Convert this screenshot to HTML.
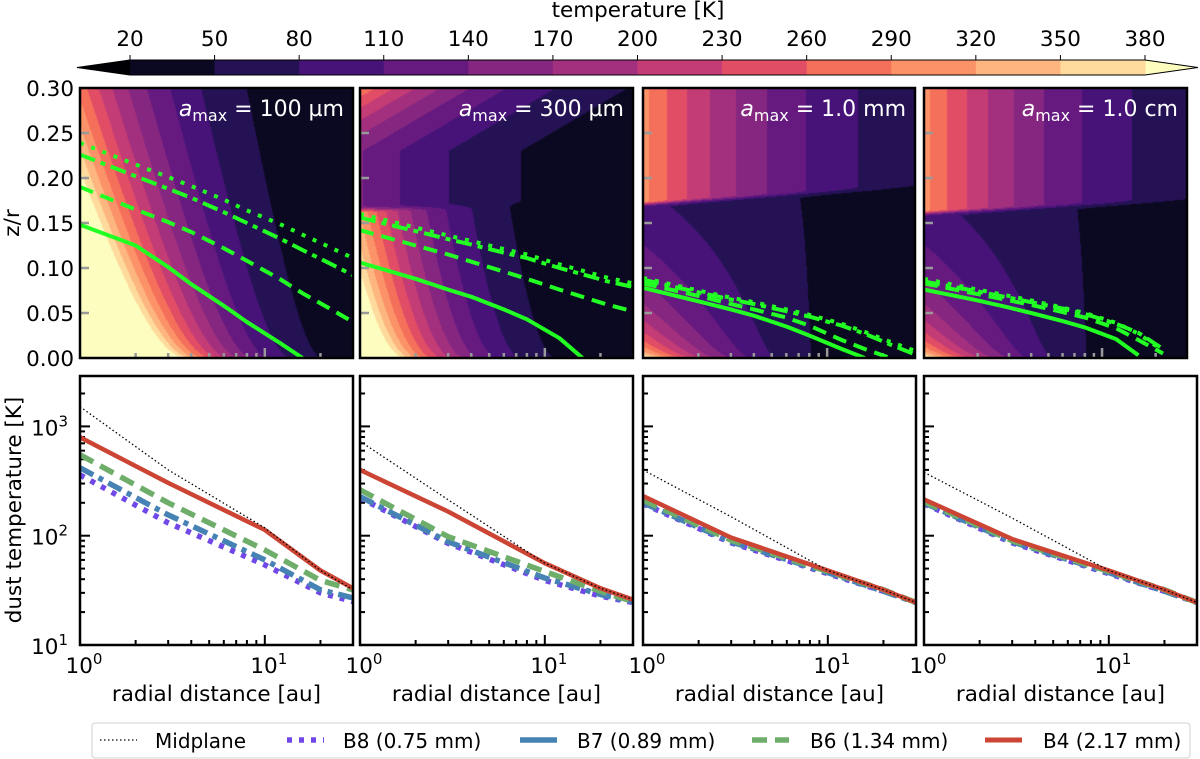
<!DOCTYPE html>
<html><head><meta charset="utf-8">
<style>
html,body{margin:0;padding:0;background:#fff;}
#wrap{position:relative;width:1200px;height:759px;overflow:hidden;}
canvas,svg{position:absolute;left:0;top:0;}
text{font-family:"DejaVu Sans","Liberation Sans",sans-serif;fill:#000;}
</style></head>
<body>
<div id="wrap">
<canvas id="cv" width="1200" height="759"></canvas>
<svg id="sv" width="1200" height="759" xmlns="http://www.w3.org/2000/svg"></svg>
</div>
<script>
// ---------- data ----------
const levels = [20,50,80,110,140,170,200,230,260,290,320,350,380];
const binColors = ['#0b0922','#251255','#471378','#661a80','#852781','#a3307e','#c43c75','#e24d66','#f5705b','#fc9368','#fdb680','#fedb9d'];
const underColor = '#000004', overColor = '#fcfdbf';
const panelTitles = ['100 µm','300 µm','1.0 mm','1.0 cm'];
// model parameters of the temperature field (per panel)
const lowA = [7.52,6.55,6.12,6.12];
const lowB = [4.06,3.67,3.56,3.56];
const lowC = [3.45,1.95,4.0,4.0];
const lowD = [2.27,0.77,6.3,6.3];
const upA = [0,4.96,5.71,5.71];
const upB = [0,1.78,1.68,1.68];
const upE = [0,10,0,0];
const upZ2 = [1,0.23,1,1];
const stepZ0 = [9,0.165,0.17,0.16];
const stepZ1 = [0,0.01,0.02,0.015];
// tau=1 surfaces (z/r) at radii
const rTop = [1,2,3,4,6,8,12,16,22,30];
const zB8 = [[0.239,0.215,0.201,0.191,0.176,0.164,0.149,0.137,0.124,0.111],[0.160,0.145,0.136,0.130,0.121,0.115,0.104,0.097,0.089,0.083],[0.089,0.075,0.067,0.062,0.054,0.048,0.038,0.029,0.018,0.008],[0.088,0.076,0.069,0.064,0.056,0.050,0.039,0.027,0.008,null]];
const zB7 = [[0.226,0.202,0.188,0.178,0.162,0.150,0.133,0.120,0.106,0.092],[0.156,0.141,0.132,0.126,0.117,0.111,0.100,0.093,0.085,0.079],[0.087,0.073,0.065,0.060,0.052,0.046,0.036,0.027,0.015,0.004],[0.085,0.074,0.067,0.062,0.055,0.049,0.038,0.028,0.010,null]];
const zB6 = [[0.190,0.165,0.151,0.140,0.122,0.108,0.088,0.072,0.056,0.040],[0.142,0.125,0.115,0.107,0.096,0.088,0.076,0.068,0.059,0.052],[0.083,0.069,0.060,0.054,0.045,0.036,0.020,0.010,0,null],[0.083,0.071,0.064,0.059,0.051,0.045,0.033,0.020,0.005,null]];
const zB4 = [[0.148,0.125,0.101,0.082,0.058,0.040,0.017,0,null,null],[0.106,0.088,0.076,0.068,0.054,0.043,0.022,0,null,null],[0.078,0.063,0.054,0.047,0.035,0.025,0.010,0,null,null],[0.076,0.064,0.056,0.050,0.041,0.034,0.021,0.003,null,null]];
// dust temperature profiles
const rBot = [1,3,10,20,30];
const tMid = [[1515,400,118,48,32],[730,213,56,33,26],[400,149,48,32,24.5],[380,145,48,32,24.5]];
const tB4 = [[795,304,113,48,33],[400,166,56,33,26],[231,96,48,32,24.5],[215,93,48,32,24.5]];
const tB6 = [[550,200,74,39,32],[263,98,47,31,25],[212,91,47,32,24.5],[205,90,47,32,24.5]];
const tB7 = [[418,155,60,32,27],[228,88,41,29,25],[200,88,46,31,24.5],[200,88,46,31,24.5]];
const tB8 = [[360,131,54,30,25],[222,85,39,28,24.5],[196,86,45,31,24.5],[196,86,45,31,24.5]];
const zTicks = ['0.00','0.05','0.10','0.15','0.20','0.25','0.30'];
const tTicks = [1,2,3];

// ---------- layout ----------
const PL = [80,360,643,924];
const TW = [273,273,272,263];
const BW = 273;
const topY0 = 88, topY1 = 358, botY0 = 376, botY1 = 645;
const RMAX = 30;
const FS = 21.5;
const NS = 'http://www.w3.org/2000/svg';
const sv = document.getElementById('sv');
function el(tag, attrs, parent){ const e=document.createElementNS(NS,tag); for(const k in attrs) e.setAttribute(k,attrs[k]); (parent||sv).appendChild(e); return e; }
function xR(p, r, w){ return PL[p] + Math.log10(r)/Math.log10(RMAX)*w; }
function yZ(z){ return topY1 - z/0.3*(topY1-topY0); }
function yT(t){ return botY1 - (Math.log10(t)-1)*109.3; }
function cbX(t){ return 130 + (t-20)/360*(1145-130); }

// ---------- field ----------
const cv = document.getElementById('cv'); const ctx = cv.getContext('2d');
function hex(c){ return [parseInt(c.slice(1,3),16),parseInt(c.slice(3,5),16),parseInt(c.slice(5,7),16)]; }
const binRGB = binColors.map(hex), oRGB = hex(overColor);
for(let p=0;p<4;p++){
  const W=TW[p], H=topY1-topY0;
  const img = ctx.createImageData(W,H);
  for(let py=0;py<H;py++){ for(let px=0;px<W;px++){
    const u=(px+0.5)/W, z=0.3*(1-(py+0.5)/H);
    const lnLow = lowA[p]-lowB[p]*u-(lowC[p]-lowD[p]*u)*Math.sqrt(z);
    let lnT = lnLow;
    const zs = stepZ0[p]+stepZ1[p]*u;
    if(stepZ0[p]<1){
      const lnUp = upA[p]-upB[p]*u+upE[p]*Math.max(0,z-upZ2[p]);
      let w=(z-zs)/0.008+0.5; w=Math.max(0,Math.min(1,w)); w=w*w*(3-2*w);
      lnT = lnLow*(1-w)+lnUp*w;
    }
    const T=Math.exp(lnT);
    let c;
    if(T<50) c=binRGB[0]; else if(T>=levels[levels.length-1]) c=oRGB; else c=binRGB[Math.floor((T-20)/30)];
    const i=(py*W+px)*4; img.data[i]=c[0]; img.data[i+1]=c[1]; img.data[i+2]=c[2]; img.data[i+3]=255;
  }}
  ctx.putImageData(img, PL[p], topY0);
}

// ---------- colorbar ----------
const cb = el('g',{});  
el('polygon',{points:`77,67.5 ${cbX(20)},60 ${cbX(20)},75`,fill:underColor},cb);
el('polygon',{points:`${cbX(380)},60 1198,67.5 ${cbX(380)},75`,fill:overColor},cb);
for(let i=0;i<binColors.length;i++){
  const r=el('rect',{x:cbX(levels[i]),y:60,width:cbX(levels[i+1])-cbX(levels[i])+0.5,height:15,fill:binColors[i]},cb);
   
}
el('polygon',{points:`77,67.5 ${cbX(20)},60 ${cbX(380)},60 1198,67.5 ${cbX(380)},75 ${cbX(20)},75`,fill:'none',stroke:'#000','stroke-width':1},cb);
levels.forEach(t=>{
  el('line',{x1:cbX(t),x2:cbX(t),y1:55,y2:60,stroke:'#000','stroke-width':1},cb);
  const tx=el('text',{x:cbX(t),y:46,'font-size':FS,'text-anchor':'middle'},cb); tx.textContent=t;
   
});
const cbt=el('text',{x:638,y:17,'font-size':FS,'text-anchor':'middle'},cb); cbt.textContent='temperature [K]';
 

// ---------- defs ----------
const defs=el('defs',{});
for(let p=0;p<4;p++){
  const c=el('clipPath',{id:'ct'+p},defs); el('rect',{x:PL[p],y:topY0,width:TW[p],height:topY1-topY0},c);
  const c2=el('clipPath',{id:'cb'+p},defs); el('rect',{x:PL[p],y:botY0,width:BW,height:botY1-botY0},c2);
}
const GREEN='#22ff22';
const bandStyles = [
  {name:'b8',zs:zB8,ts:tB8,color:'#7048e8',dash:'5,7',w:5.5},
  {name:'b7',zs:zB7,ts:tB7,color:'#4682b4',dash:'15,6,5,6',w:5.5},
  {name:'b6',zs:zB6,ts:tB6,color:'#6fae6a',dash:'15,8',w:5.5},
  {name:'b4',zs:zB4,ts:tB4,color:'#cc4433',dash:'',w:4.5}
];
const greenDash = {b8:'4,8',b7:'16,6,5,6',b6:'14,8',b4:''};
const minors=[2,3,4,5,6,7,8,9,20,30];

// ---------- top panels ----------
for(let p=0;p<4;p++){
  const g=el('g',{});  
  const W=TW[p];
  [0.05,0.10,0.15,0.20,0.25].forEach(z=>{ el('line',{x1:PL[p],x2:PL[p]+9,y1:yZ(z),y2:yZ(z),stroke:'#999','stroke-width':2.5},g); });
  minors.forEach(r=>{ if(r<RMAX) el('line',{x1:xR(p,r,W),x2:xR(p,r,W),y1:topY1,y2:topY1-5,stroke:'#999','stroke-width':2.5},g); });
  el('line',{x1:xR(p,10,W),x2:xR(p,10,W),y1:topY1,y2:topY1-10,stroke:'#999','stroke-width':2.5},g);
  const gl=el('g',{'clip-path':`url(#ct${p})`},g);
  bandStyles.forEach(b=>{
    const zs=b.zs[p]; let d='';
    for(let i=0;i<rTop.length;i++){ if(zs[i]===null) continue; d+=(d?'L':'M')+xR(p,rTop[i],W).toFixed(1)+','+yZ(zs[i]).toFixed(1); }
    const path=el('path',{d:d,fill:'none',stroke:GREEN,'stroke-width':4,'stroke-dasharray':greenDash[b.name]||'none','stroke-linejoin':'round'},gl);
     
  });
  el('rect',{x:PL[p],y:topY0,width:W,height:topY1-topY0,fill:'none',stroke:'#000','stroke-width':2.5},g);
  const t=el('text',{x:PL[p]+W-9,y:116,'font-size':22,'text-anchor':'end',style:'fill:#fff'},g);
   
  const a=el('tspan',{'font-style':'italic'},t); a.textContent='a';
  const s=el('tspan',{'font-size':16,dy:5},t); s.textContent='max';
  const v=el('tspan',{dy:-5},t); v.textContent=' = '+panelTitles[p];
}
zTicks.forEach(s=>{
  const t=el('text',{x:74,y:yZ(parseFloat(s))+8,'font-size':FS,'text-anchor':'end'}); t.textContent=s;
   
});
const zl=el('text',{x:0,y:0,'font-size':FS,'text-anchor':'middle',transform:'translate(19,223) rotate(-90)'}); zl.textContent='z/r';
 

// ---------- bottom panels ----------
for(let p=0;p<4;p++){
  const g=el('g',{});  
  for(let k=1;k<=3;k++){
    el('line',{x1:PL[p],x2:PL[p]+10,y1:yT(Math.pow(10,k)),y2:yT(Math.pow(10,k)),stroke:'#000','stroke-width':2},g);
    for(let m=2;m<=9;m++){ const y=yT(m*Math.pow(10,k)); if(y>botY0) el('line',{x1:PL[p],x2:PL[p]+5,y1:y,y2:y,stroke:'#000','stroke-width':2},g); }
  }
  minors.forEach(r=>{ if(r<RMAX) el('line',{x1:xR(p,r,BW),x2:xR(p,r,BW),y1:botY1,y2:botY1-5,stroke:'#000','stroke-width':2},g); });
  el('line',{x1:xR(p,10,BW),x2:xR(p,10,BW),y1:botY1,y2:botY1-10,stroke:'#000','stroke-width':2},g);
  const cl=el('g',{'clip-path':`url(#cb${p})`},g);
  bandStyles.forEach(b=>{
    const ts=b.ts[p]; let d='';
    for(let i=0;i<rBot.length;i++) d+=(i?'L':'M')+xR(p,rBot[i],BW).toFixed(1)+','+yT(ts[i]).toFixed(1);
    const path=el('path',{d:d,fill:'none',stroke:b.color,'stroke-width':b.w,'stroke-dasharray':b.dash||'none','stroke-linejoin':'round'},cl);
     
  });
  let d=''; for(let i=0;i<rBot.length;i++) d+=(i?'L':'M')+xR(p,rBot[i],BW).toFixed(1)+','+yT(tMid[p][i]).toFixed(1);
  const mp=el('path',{d:d,fill:'none',stroke:'#000','stroke-width':1.3,'stroke-dasharray':'1.5,2.5'},cl);
   
  el('rect',{x:PL[p],y:botY0,width:BW,height:botY1-botY0,fill:'none',stroke:'#000','stroke-width':2.5},g);
  [[1,'0'],[10,'1']].forEach(([r,e])=>{
    const t=el('text',{x:xR(p,r,BW)+4,y:673,'font-size':FS,'text-anchor':'middle'},g);
     
    const a=el('tspan',{},t); a.textContent='10'; const s=el('tspan',{'font-size':15,dy:-9},t); s.textContent=e;
  });
  const xl=el('text',{x:PL[p]+BW/2,y:701,'font-size':FS,'text-anchor':'middle'},g); xl.textContent='radial distance [au]';
   
}
tTicks.forEach(k=>{
  const t=el('text',{x:68,y:yT(Math.pow(10,k))+9,'font-size':FS,'text-anchor':'end'});
   
  const a=el('tspan',{},t); a.textContent='10'; const s=el('tspan',{'font-size':15,dy:-9},t); s.textContent=String(k);
});
const yl=el('text',{x:0,y:0,'font-size':FS,'text-anchor':'middle',transform:'translate(21,510) rotate(-90)'}); yl.textContent='dust temperature [K]';
 

// ---------- legend ----------
const lg=el('g',{});  
el('rect',{x:92,y:723,width:1098,height:35,rx:3,fill:'#fff',stroke:'#d0d0d0','stroke-width':1},lg);
const legItems=[
  {label:'Midplane',x:100,tx:155,color:'#000',dash:'1.5,2.5',w:1.3},
  {label:'B8 (0.75 mm)',x:287,tx:343,color:'#7048e8',dash:'5,7',w:5.5},
  {label:'B7 (0.89 mm)',x:520,tx:577,color:'#4682b4',dash:'',w:5.5},
  {label:'B6 (1.34 mm)',x:752,tx:810,color:'#6fae6a',dash:'15,8',w:5.5},
  {label:'B4 (2.17 mm)',x:985,tx:1043,color:'#cc4433',dash:'',w:5}
];
legItems.forEach(it=>{
  const g=el('g',{},lg);  
  el('line',{x1:it.x,x2:it.x+37,y1:740,y2:740,stroke:it.color,'stroke-width':it.w,'stroke-dasharray':it.dash||'none'},g);
  const t=el('text',{x:it.tx,y:748,'font-size':20},g); t.textContent=it.label;
});
</script>
</body></html>
